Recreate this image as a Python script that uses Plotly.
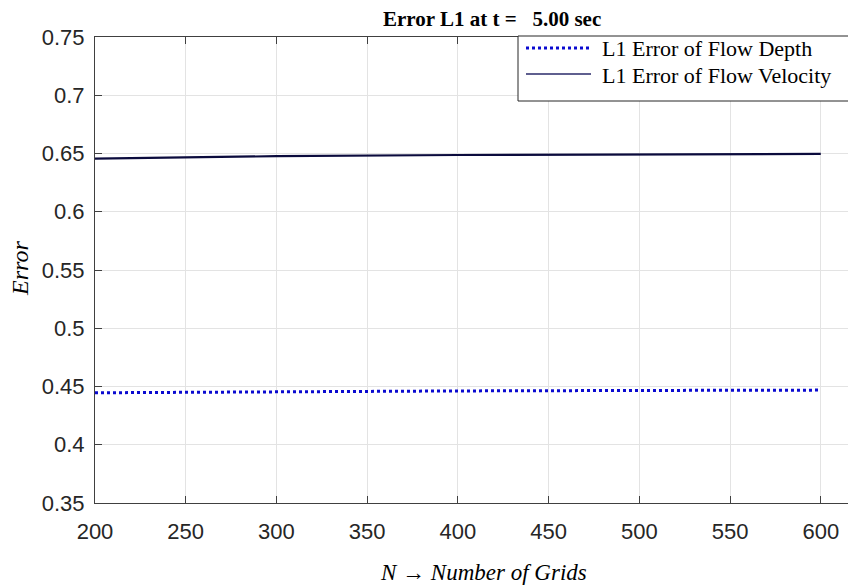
import plotly.graph_objects as go

# ---- data ----
grid_n = [200, 300, 400, 500, 600]
err_depth = [0.4446, 0.4456, 0.4462, 0.4466, 0.4469]
err_velocity = [0.6456, 0.6477, 0.6487, 0.6493, 0.6497]
y_ticks = [0.35, 0.4, 0.45, 0.5, 0.55, 0.6, 0.65, 0.7, 0.75]
y_tick_text = ["0.35", "0.4", "0.45", "0.5", "0.55", "0.6", "0.65", "0.7", "0.75"]
x_ticks = [200, 250, 300, 350, 400, 450, 500, 550, 600]
legend_names = ["L1 Error of Flow Depth", "L1 Error of Flow Velocity"]

W, H = 848, 587
L, R, T, B = 95, 0, 37, 84
pw, ph = W - L - R, H - T - B


def px(x):
    return (x - L) / pw


def py(y):
    return (H - B - y) / ph


depth_color = "#0a0ad0"
vel_color = "#0b0b3d"
serif = "Liberation Serif"
sans = "Liberation Sans, Arial, Helvetica, sans-serif"
axis_col = "#404040"

fig = go.Figure()
fig.add_trace(go.Scatter(x=grid_n, y=err_depth, mode="lines", name=legend_names[0],
                         line=dict(color=depth_color, width=3, dash="dot"), showlegend=False))
fig.add_trace(go.Scatter(x=grid_n, y=err_velocity, mode="lines", name=legend_names[1],
                         line=dict(color=vel_color, width=2.2), showlegend=False))

fig.update_layout(
    width=W, height=H,
    margin=dict(l=L, r=R, t=T, b=B, pad=0),
    paper_bgcolor="white", plot_bgcolor="white",
    xaxis=dict(range=[200, 615], tickvals=x_ticks, ticks="inside", ticklen=7,
               tickcolor=axis_col, showline=True, linecolor=axis_col, linewidth=1,
               mirror="ticks", showgrid=True, gridcolor="#e3e3e3", gridwidth=1,
               zeroline=False, tickfont=dict(family=sans, size=22, color="#262626"),
               ticklabelstandoff=9),
    yaxis=dict(range=[0.35, 0.75], tickvals=y_ticks, ticktext=y_tick_text, ticks="inside",
               ticklen=7, tickcolor=axis_col, showline=True, linecolor=axis_col, linewidth=1,
               mirror=False, showgrid=True, gridcolor="#e3e3e3", gridwidth=1,
               zeroline=False, tickfont=dict(family=sans, size=22, color="#262626"),
               ticklabelstandoff=5),
)

nb = "\u00a0"
annotations = [
    dict(text="<b>Error L1 at t =" + nb * 3 + "5.00 sec</b>", x=px(381), y=py(19),
         xanchor="left", yanchor="middle", font=dict(family=serif, size=21, color="black")),
    dict(text="<i>N</i>" + nb + "\u2192" + nb + "<i>Number of Grids</i>", x=px(483), y=py(572),
         xanchor="center", yanchor="middle", font=dict(family=serif, size=23, color="black")),
    dict(text="<i>Error</i>", x=px(20), y=py(269), textangle=-90,
         xanchor="center", yanchor="middle", font=dict(family=serif, size=24, color="black")),
    dict(text=legend_names[0], x=px(600), y=py(49), xanchor="left", yanchor="middle",
         font=dict(family=serif, size=22, color="black")),
    dict(text=legend_names[1], x=px(600), y=py(75), xanchor="left", yanchor="middle",
         font=dict(family=serif, size=22, color="black")),
]
for a in annotations:
    a.update(xref="paper", yref="paper", showarrow=False)
fig.update_layout(annotations=annotations)

shapes = [
    dict(type="rect", x0=px(518), x1=px(870), y0=py(101), y1=py(36),
         line=dict(color="#262626", width=1), fillcolor="white", layer="above"),
    dict(type="line", x0=px(526), x1=px(591), y0=py(48), y1=py(48),
         line=dict(color=depth_color, width=3, dash="dot"), layer="above"),
    dict(type="line", x0=px(526), x1=px(591), y0=py(74), y1=py(74),
         line=dict(color="#2a2a6a", width=1.3), layer="above"),
]
for s in shapes:
    s.update(xref="paper", yref="paper")
fig.update_layout(shapes=shapes)

fig.write_html("out.html")
